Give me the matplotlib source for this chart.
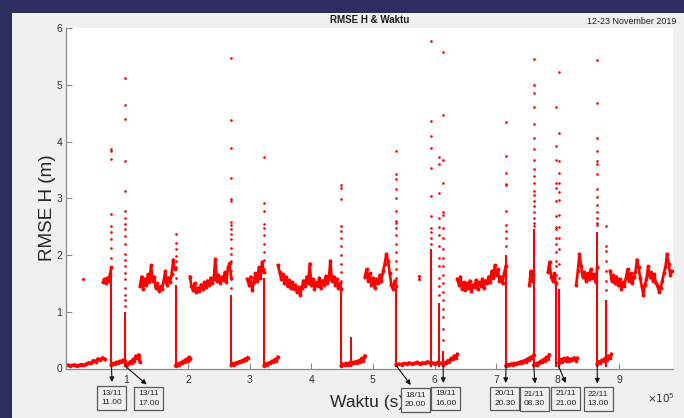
import numpy as np
import matplotlib.pyplot as plt
from matplotlib.patches import Rectangle

plt.rcParams['font.family'] = ['Liberation Sans', 'DejaVu Sans']

# time axis in units of 1e5 s, RMSE H in metres
# low runs (RMSE near zero)
low_starts = [0.015, 0.757, 0.972, 1.80, 2.705, 3.235, 4.49, 5.38, 6.14, 7.16, 7.61, 8.02, 8.64]
low_ends = [0.65, 0.972, 1.22, 2.04, 2.97, 3.46, 4.87, 6.14, 6.37, 7.61, 7.86, 8.32, 8.87]
low_values = [
    [0.06, 0.06, 0.05, 0.06, 0.06, 0.05, 0.06, 0.07, 0.06, 0.08, 0.10, 0.09, 0.14, 0.12, 0.17, 0.15, 0.19, 0.16],
    [0.06, 0.09, 0.08, 0.11, 0.10, 0.13, 0.12, 0.15, 0.14],
    [0.12, 0.08, 0.06, 0.09, 0.12, 0.10, 0.16, 0.14, 0.22, 0.18, 0.24, 0.12],
    [0.05, 0.08, 0.06, 0.10, 0.09, 0.13, 0.12, 0.16, 0.14, 0.20, 0.17],
    [0.06, 0.09, 0.07, 0.10, 0.09, 0.12, 0.11, 0.14, 0.13, 0.17, 0.15, 0.19],
    [0.05, 0.08, 0.07, 0.10, 0.09, 0.13, 0.11, 0.16, 0.14, 0.20],
    [0.05, 0.08, 0.06, 0.09, 0.07, 0.10, 0.08, 0.11, 0.09, 0.12, 0.10, 0.14, 0.11, 0.18, 0.13, 0.22],
    [0.06, 0.08, 0.07, 0.09, 0.08, 0.10, 0.08, 0.09, 0.11, 0.08, 0.10, 0.09, 0.12, 0.09, 0.10, 0.08, 0.11, 0.09, 0.10],
    [0.07, 0.10, 0.09, 0.14, 0.12, 0.18, 0.16, 0.22, 0.19, 0.25],
    [0.05, 0.07, 0.06, 0.08, 0.07, 0.09, 0.08, 0.10, 0.09, 0.12, 0.10, 0.14, 0.12, 0.17, 0.15, 0.20, 0.18, 0.24],
    [0.06, 0.08, 0.07, 0.10, 0.09, 0.13, 0.11, 0.16, 0.14, 0.20, 0.17, 0.24],
    [0.10, 0.16, 0.12, 0.18, 0.14, 0.19, 0.13, 0.17, 0.15, 0.19, 0.14, 0.18],
    [0.08, 0.12, 0.10, 0.15, 0.13, 0.18, 0.15, 0.22, 0.18, 0.25],
]

# high runs (RMSE around 1.5 m)
high_starts = [0.62, 1.22, 2.03, 2.96, 3.46, 4.87, 6.37, 7.54, 7.84, 8.30, 8.85]
high_ends = [0.757, 1.785, 2.70, 3.23, 4.49, 5.38, 7.155, 7.60, 7.97, 8.64, 9.85]
high_values = [
    [1.52, 1.58, 1.50, 1.60, 1.55, 1.66, 1.78],
    [1.45, 1.62, 1.40, 1.58, 1.48, 1.66, 1.52, 1.82, 1.55, 1.62, 1.42, 1.50, 1.36, 1.45, 1.40, 1.55,
     1.72, 1.48, 1.60, 1.52, 1.66, 1.92, 1.75],
    [1.62, 1.45, 1.38, 1.50, 1.34, 1.42, 1.36, 1.48, 1.40, 1.52, 1.44, 1.55, 1.47, 1.60, 1.50, 1.58,
     1.93, 1.55, 1.65, 1.50, 1.62, 1.56, 1.70, 1.52, 1.78, 1.86, 1.60],
    [1.58, 1.48, 1.62, 1.38, 1.52, 1.68, 1.55, 1.78, 1.60, 1.88, 1.70],
    [1.82, 1.70, 1.58, 1.66, 1.50, 1.62, 1.45, 1.56, 1.42, 1.52, 1.40, 1.48, 1.34, 1.44, 1.30, 1.42,
     1.55, 1.46, 1.62, 1.50, 1.85, 1.48, 1.58, 1.40, 1.52, 1.45, 1.60, 1.42, 1.55, 1.48, 1.63, 1.50,
     1.58, 1.90, 1.55, 1.62, 1.48, 1.57, 1.42, 1.50, 1.40],
    [1.62, 1.75, 1.55, 1.68, 1.48, 1.60, 1.42, 1.58, 1.50, 1.65, 1.55, 1.72, 1.85, 2.02, 1.90, 1.68,
     1.48, 1.40, 1.55, 1.45],
    [1.58, 1.48, 1.62, 1.40, 1.52, 1.38, 1.50, 1.42, 1.55, 1.36, 1.48, 1.44, 1.56, 1.40, 1.52, 1.46,
     1.58, 1.42, 1.55, 1.50, 1.62, 1.52, 1.72, 1.60, 1.82, 1.65, 1.75, 1.55, 1.62, 1.50, 1.68, 1.80],
    [1.48, 1.72, 1.55, 1.65],
    [1.70, 1.88, 1.62, 1.55, 1.68, 1.50],
    [1.48, 1.72, 2.02, 1.80, 1.62, 1.70, 1.55, 1.68, 1.58, 1.75, 1.60, 1.66, 1.52, 1.78],
    [1.72, 1.55, 1.65, 1.50, 1.62, 1.48, 1.58, 1.40, 1.52, 1.45, 1.60, 1.75, 1.55, 1.68, 1.50, 1.62,
     1.70, 1.92, 1.78, 1.60, 1.45, 1.30, 1.48, 1.58, 1.80, 1.62, 1.70, 1.55, 1.66, 1.50, 1.45, 1.35,
     1.42, 1.55, 1.68, 1.78, 2.02, 1.85, 1.65, 1.72],
]

# isolated samples between runs
stray_times = [0.30, 5.745, 5.745]
stray_values = [1.58, 1.63, 1.57]

# spikes: time, top of the continuous part, isolated samples above it
spike_times = [0.757, 0.972, 1.80, 2.705, 3.235, 4.49, 4.64, 5.38, 5.94, 6.07, 6.14,
               7.16, 7.61, 7.97, 8.02, 8.64, 8.78]
spike_solid = [1.8, 1.0, 1.48, 1.3, 1.6, 1.4, 0.56, 1.45, 2.1, 1.16, 0.3,
               2.0, 2.45, 1.5, 1.4, 2.4, 1.2]
spike_points = [
    [1.95, 2.13, 2.28, 2.40, 2.51, 2.72, 3.70, 3.83, 3.87],
    [1.10, 1.21, 1.30, 1.42, 1.57, 1.69, 1.80, 1.92, 2.01, 2.19, 2.34, 2.46, 2.54, 2.66, 2.78, 3.12,
     3.65, 4.40, 4.65, 5.12],
    [1.60, 1.78, 1.89, 1.98, 2.10, 2.22, 2.37],
    [1.42, 1.57, 1.72, 1.89, 2.01, 2.13, 2.28, 2.37, 2.45, 2.53, 2.58, 2.96, 2.99, 3.36, 3.89, 4.38, 5.48],
    [1.75, 1.92, 2.05, 2.20, 2.35, 2.47, 2.54, 2.78, 2.92, 3.73],
    [1.55, 1.70, 1.85, 2.00, 2.15, 2.30, 2.42, 2.51, 2.99, 3.18, 3.24],
    [],
    [1.60, 1.75, 1.90, 2.05, 2.20, 2.35, 2.48, 2.56, 2.60, 2.78, 3.00, 3.16, 3.34, 3.42, 3.84],
    [2.20, 2.30, 2.40, 2.47, 2.69, 3.04, 3.53, 3.89, 4.10, 4.37, 5.77],
    [1.30, 1.45, 1.60, 1.80, 1.95, 2.15, 2.35, 2.50, 2.65, 3.09, 3.60, 3.73],
    [0.50, 0.70, 0.90, 1.05, 1.20, 1.35, 1.50, 1.65, 1.80, 1.95, 2.10, 2.30, 2.47, 2.70, 2.75, 3.27,
     3.68, 4.46, 5.57],
    [2.15, 2.30, 2.42, 2.53, 2.78, 3.24, 3.25, 3.44, 3.75, 4.35],
    [2.51, 2.57, 2.66, 2.75, 2.87, 2.96, 3.05, 3.13, 3.27, 3.39, 3.51, 3.67, 3.86, 4.06, 4.31, 4.61,
     4.85, 4.99, 5.45],
    [1.65, 1.80, 1.90, 2.05, 2.20, 2.30, 2.45, 2.50, 2.68, 2.95, 3.18, 3.27, 3.68, 3.92, 4.60],
    [1.60, 1.85, 2.10, 2.30, 2.50, 2.70, 2.97, 3.11, 3.26, 3.45, 3.65, 4.15, 5.23],
    [2.52, 2.57, 2.66, 2.76, 2.88, 3.02, 3.16, 3.43, 3.60, 3.65, 3.84, 4.06, 4.67, 5.44],
    [1.39, 1.55, 1.72, 1.90, 2.07, 2.16, 2.51],
]

# labelled events (date / hour)
event_times = [0.757, 0.972, 5.38, 6.14, 7.16, 7.61, 8.01, 8.64]
event_labels = ['13/11\n11.00', '13/11\n17.00', '18/11\n20.00', '19/11\n16.00',
                '20/11\n20.30', '21/11\n08.30', '21/11\n21.00', '22/11\n13.00']

W, H = 684, 418
fig = plt.figure(figsize=(W / 100, H / 100), dpi=100, facecolor='#f0f0f0')

# window frame
fig.patches.append(Rectangle((0, 1 - 13 / H), 1, 13 / H, transform=fig.transFigure,
                             facecolor='#2e2d60', edgecolor='none', zorder=0))
fig.patches.append(Rectangle((0, 0), 12 / W, 1, transform=fig.transFigure,
                             facecolor='#2e2d60', edgecolor='none', zorder=0))

ax = fig.add_axes([66 / W, 49.5 / H, 607 / W, 340.5 / H])
ax.set_facecolor('white')

red = '#ff0000'
for t0, t1, vals in zip(low_starts, low_ends, low_values):
    ax.plot(np.linspace(t0, t1, len(vals)), vals, color=red, lw=2.4,
            marker='o', ms=2.6, mew=0)
for t0, t1, vals in zip(high_starts, high_ends, high_values):
    ax.plot(np.linspace(t0, t1, len(vals)), vals, color=red, lw=1.9,
            marker='o', ms=2.8, mew=0)
for t, top, pts in zip(spike_times, spike_solid, spike_points):
    ax.vlines(t, 0.03, top, color=red, lw=1.5)
    ax.plot([t] * len(pts), pts, ls='none', marker='o', ms=1.9, mew=0, color=red)
ax.plot(stray_times, stray_values, ls='none', marker='o', ms=2.2, mew=0, color=red)

ax.set_xlim(0.02, 9.87)
ax.set_ylim(0, 6)
ax.set_xticks(range(1, 10))
ax.set_yticks(range(0, 7))
for side in ['top', 'right']:
    ax.spines[side].set_visible(False)
for side in ['left', 'bottom']:
    ax.spines[side].set_color('#8c8c8c')
    ax.spines[side].set_linewidth(0.9)
ax.tick_params(direction='in', length=4, width=0.8, color='#8c8c8c',
               labelsize=7.5, labelcolor='#333333')
ax.tick_params(axis='x', pad=4.5)
ax.tick_params(axis='y', pad=2.5)

fig.text(370 / W, 1 - 20 / H, 'RMSE H & Waktu', fontsize=7, fontweight='bold',
         ha='center', va='center', color='#1a1a1a')
fig.text(632 / W, 1 - 21 / H, '12-23 November 2019', fontsize=6.4,
         ha='center', va='center', color='#1a1a1a')
fig.text(47 / W, 1 - 208 / H, 'RMSE H (m)', fontsize=13.6, rotation=90,
         ha='center', va='center', color='#262626')
fig.text(367 / W, 1 - 403 / H, 'Waktu (s)', fontsize=12.6,
         ha='center', va='center', color='#262626')
fig.text(675 / W, 1 - 398 / H, r'$\times10^{5}$', fontsize=7.5,
         ha='right', va='center', color='#333333')

# callout boxes (pixel centres) and arrow tips on the box tops
box_centers = [(111.5, 398), (148.5, 398.5), (415.5, 400), (445.7, 398.5),
               (504.7, 398.5), (534.2, 399), (565.8, 398.5), (598.2, 398.7)]
arrow_tips = [(112, 382), (146.7, 384.5), (410.7, 385), (443.3, 383),
              (505.7, 383), (535, 383.5), (565.7, 383), (597.3, 383.5)]

for t, label, (bx, by), (ex, ey) in zip(event_times, event_labels, box_centers, arrow_tips):
    fig.text(bx / W, 1 - by / H, label, fontsize=6, ha='center', va='center',
             color='#222222', linespacing=1.45,
             bbox=dict(boxstyle='square,pad=0.45', facecolor='#f0f0f0',
                       edgecolor='#5a5a5a', linewidth=0.9))
    ax.annotate('', xy=(ex, H - ey), xycoords='figure pixels',
                xytext=(t, 0.05), textcoords='data',
                arrowprops=dict(arrowstyle='-|>', color='#111111', lw=0.8,
                                mutation_scale=7, shrinkA=0, shrinkB=0),
                annotation_clip=False)

fig.savefig('out.png', dpi=100, facecolor=fig.get_facecolor())
